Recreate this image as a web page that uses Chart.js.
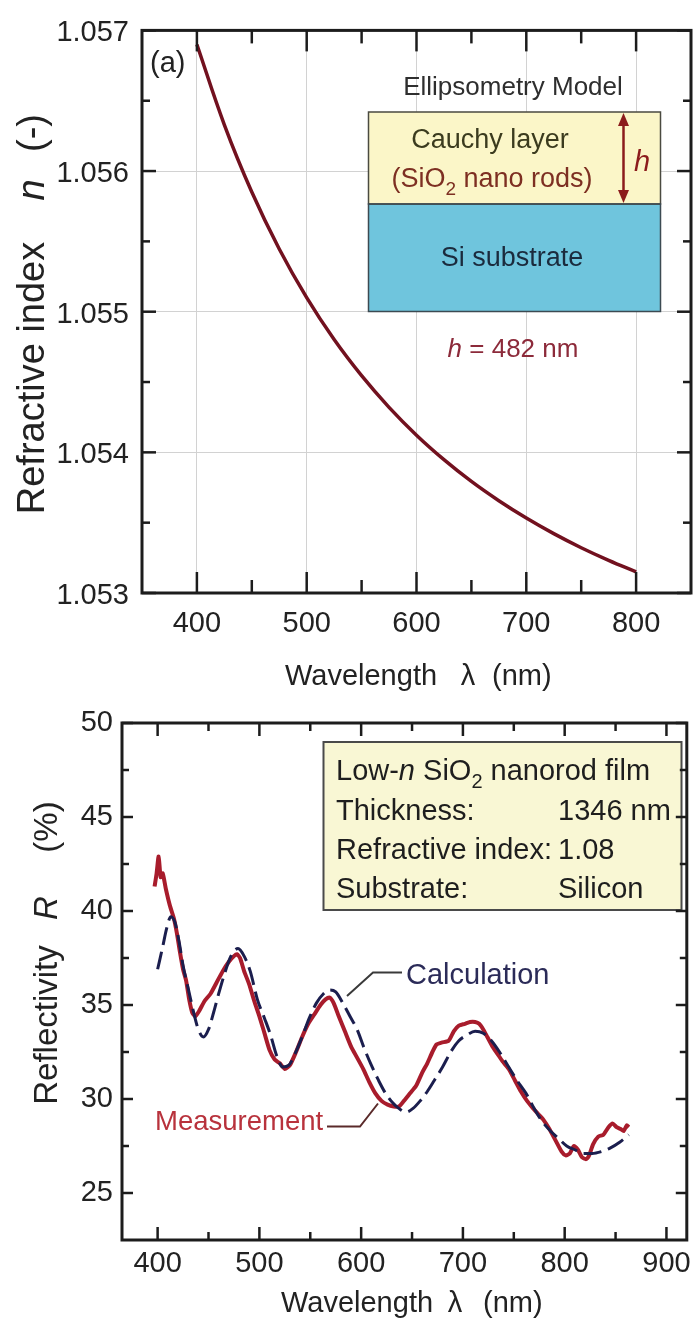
<!DOCTYPE html>
<html>
<head>
<meta charset="utf-8">
<script src="https://cdn.jsdelivr.net/npm/chart.js@4.4.1/dist/chart.umd.min.js"></script>
<style>
  html, body { margin: 0; padding: 0; background: #fff; }
  body { width: 698px; height: 1323px; position: relative; overflow: hidden; }
  #indexChart { position: absolute; left: 0; top: 0; }
  #reflChart { position: absolute; left: 0; top: 690px; }
</style>
</head>
<body>
<canvas id="indexChart" width="698" height="705"></canvas>
<canvas id="reflChart" width="698" height="633"></canvas>
<script>
// -------------------- Data: (a) refractive index --------------------
const indexWavelength = [400, 425, 450, 475, 500, 525, 550, 575, 600, 625, 650, 675, 700, 725, 750, 775, 800];
const refractiveIndex = [1.0569, 1.056329, 1.055851, 1.055446, 1.0551, 1.054802, 1.054545, 1.05432, 1.054122,
  1.053948, 1.053793, 1.053656, 1.053533, 1.053422, 1.053322, 1.053232, 1.05315];
const indexXTicks = [400, 500, 600, 700, 800];
const indexXMinor = [450, 550, 650, 750];
const indexYTicks = [1.053, 1.054, 1.055, 1.056, 1.057];
const indexYMinor = [1.0535, 1.0545, 1.0555, 1.0565];

// -------------------- Data: reflectivity --------------------
const measWavelength = [397, 399, 401, 403, 405, 408, 412, 416, 419, 422, 425, 428, 431, 434, 437, 441, 446, 452, 458, 464,
  470, 475, 478, 481, 485, 490, 495, 500, 505, 510, 515, 520, 525, 530, 536, 542, 548, 554, 560, 565,
  569, 573, 578, 584, 590, 596, 602, 608, 614, 620, 626, 632, 637, 642, 648, 654, 660, 665, 670, 674,
  679, 686, 691, 696, 702, 707, 712, 716, 720, 724, 729, 734, 739, 745, 751, 757, 763, 769, 774, 779,
  785, 791, 797, 801, 805, 809, 813, 817, 821, 824, 828, 833, 838, 843, 847, 851, 855, 858, 861, 863];
const measReflectivity = [41.3, 42.0, 42.9, 41.8, 42.0, 41.2, 40.3, 39.6, 38.8, 37.8, 36.9, 36.3, 35.3, 34.6, 34.4, 34.7, 35.2, 35.6, 36.2, 36.8,
  37.3, 37.6, 37.7, 37.5, 36.8, 36.1, 35.2, 34.4, 33.5, 32.6, 32.1, 31.9, 31.6, 31.8, 32.5, 33.3, 34.0, 34.5, 35.0, 35.3,
  35.4, 35.1, 34.4, 33.6, 32.8, 32.2, 31.6, 30.9, 30.3, 29.9, 29.7, 29.6, 29.6, 29.9, 30.3, 30.7, 31.4, 31.9, 32.5, 32.9,
  33.0, 33.1, 33.6, 33.9, 34.0, 34.1, 34.1, 34.0, 33.7, 33.3, 32.8, 32.4, 32.0, 31.6, 31.0, 30.4, 29.9, 29.5, 29.2, 28.9,
  28.4, 27.8, 27.2, 27.0, 27.1, 27.5, 27.3, 26.9, 26.8, 27.0, 27.6, 28.0, 28.1, 28.5, 28.7, 28.5, 28.4, 28.3, 28.6, 28.5];
const calcWavelength = [400, 405, 409, 413, 417, 421, 425, 430, 435, 440, 445, 450, 455, 460, 466, 472, 479, 485, 491, 498,
  505, 511, 517, 523, 529, 535, 542, 549, 556, 563, 569, 575, 582, 589, 596, 603, 610, 617, 624, 631,
  637, 644, 651, 658, 665, 672, 680, 688, 696, 704, 712, 720, 728, 736, 745, 753, 762, 770, 778, 786,
  794, 802, 810, 818, 827, 836, 845, 854, 863];
const calcReflectivity = [36.9, 38.1, 39.1, 39.7, 39.4, 38.4, 37.1, 35.9, 34.7, 33.7, 33.3, 33.7, 34.6, 35.6, 36.7, 37.6, 38.0, 37.6, 36.8, 35.3,
  34.3, 33.4, 32.3, 31.7, 31.8, 32.4, 33.3, 34.3, 35.1, 35.6, 35.8, 35.7, 35.1, 34.4, 33.7, 32.7, 31.8, 31.0, 30.3, 29.8,
  29.5, 29.3, 29.5, 29.9, 30.4, 31.0, 31.7, 32.5, 33.1, 33.4, 33.6, 33.5, 33.1, 32.5, 31.7, 31.0, 30.3, 29.5, 28.8, 28.3,
  27.9, 27.5, 27.3, 27.1, 27.1, 27.2, 27.4, 27.7, 28.1];
const reflXTicks = [400, 500, 600, 700, 800, 900];
const reflXMinor = [450, 550, 650, 750, 850];
const reflYTicks = [25, 30, 35, 40, 45, 50];
const reflYMinor = [27.5, 32.5, 37.5, 42.5, 47.5];

// -------------------- Fonts --------------------
function hasFont(name){
  const c = document.createElement('canvas').getContext('2d');
  c.font = '40px monospace';
  const a = c.measureText('Wavelength 1.057').width;
  c.font = `40px "${name}", monospace`;
  return c.measureText('Wavelength 1.057').width !== a;
}
const SANS = '"Liberation Sans", Arial, sans-serif';
const hasNarrow = hasFont('Liberation Sans Narrow');
const NARROW = hasNarrow ? '"Liberation Sans Narrow", "Liberation Sans", sans-serif' : SANS;
const ns = size => hasNarrow ? size : Math.round(size * 0.82);   // narrow size fallback
const nf = (size, style) => `${style || ''} ${ns(size)}px ${NARROW}`;
const sf = (size, style) => `${style || ''} ${size}px ${SANS}`;

// -------------------- Drawing helpers --------------------
function line(ctx, pts){
  ctx.beginPath();
  ctx.moveTo(pts[0][0], pts[0][1]);
  pts.slice(1).forEach(p => ctx.lineTo(p[0], p[1]));
  ctx.stroke();
}

// runs of text with mixed styles: [{t, font, dy}]
function runs(ctx, parts, x, y, align, color){
  ctx.save();
  ctx.fillStyle = color;
  ctx.textBaseline = 'alphabetic';
  ctx.textAlign = 'left';
  const widths = parts.map(p => { ctx.font = p.font; return ctx.measureText(p.t).width; });
  const total = widths.reduce((a, b) => a + b, 0);
  let cx = align === 'center' ? x - total / 2 : x;
  parts.forEach((p, i) => {
    ctx.font = p.font;
    ctx.fillText(p.t, cx, y + (p.dy || 0));
    cx += widths[i];
  });
  ctx.restore();
}

// vertical text, read bottom-to-top, baseline at bx
function vtext(ctx, str, bx, cy, font, color){
  ctx.save();
  ctx.translate(bx, cy);
  ctx.rotate(-Math.PI / 2);
  ctx.font = font;
  ctx.fillStyle = color;
  ctx.textAlign = 'center';
  ctx.textBaseline = 'alphabetic';
  ctx.fillText(str, 0, 0);
  ctx.restore();
}

// border box plus inward tick marks on all four sides
function drawFrame(chart, o){
  const {ctx, chartArea: a, scales: {x, y}} = chart;
  ctx.save();
  ctx.strokeStyle = '#1c1c1c';
  ctx.lineWidth = o.tickWidth;
  const xt = (vals, len) => vals.forEach(v => {
    const p = x.getPixelForValue(v);
    line(ctx, [[p, a.bottom], [p, a.bottom - len]]);
    line(ctx, [[p, a.top], [p, a.top + len]]);
  });
  const yt = (vals, len) => vals.forEach(v => {
    const p = y.getPixelForValue(v);
    line(ctx, [[a.left, p], [a.left + len, p]]);
    line(ctx, [[a.right, p], [a.right - len, p]]);
  });
  xt(o.xMajor, o.xMajorLen);
  xt(o.xMinor, o.xMinorLen);
  yt(o.yMajor, o.yMajorLen);
  yt(o.yMinor, o.yMinorLen);
  ctx.lineWidth = o.border;
  ctx.strokeRect(a.left, a.top, a.right - a.left, a.bottom - a.top);
  ctx.restore();
}

const framePlugin = {
  id: 'frame',
  afterDatasetsDraw(chart, args, opts){ drawFrame(chart, opts); }
};

// -------------------- (a) inset and labels --------------------
const indexNotes = {
  id: 'indexNotes',
  beforeDatasetsDraw(chart){
    const ctx = chart.ctx;
    ctx.save();
    // ellipsometry model layers
    ctx.fillStyle = '#fbf6c8';
    ctx.fillRect(368.5, 112, 292, 92);
    ctx.fillStyle = '#6fc5dd';
    ctx.fillRect(368.5, 204, 292, 107.5);
    ctx.strokeStyle = '#4a4a40';
    ctx.lineWidth = 1.5;
    ctx.strokeRect(368.5, 112, 292, 92);
    ctx.strokeStyle = '#3c4a52';
    ctx.strokeRect(368.5, 204, 292, 107.5);
    ctx.restore();

    runs(ctx, [{t: 'Ellipsometry Model', font: nf(32)}], 513, 95, 'center', '#2e2e2e');
    runs(ctx, [{t: 'Cauchy layer', font: nf(33)}], 490, 148, 'center', '#3b3b1e');
    runs(ctx, [
      {t: '(SiO', font: nf(33)},
      {t: '2', font: nf(23), dy: 8},
      {t: ' nano rods)', font: nf(33)}
    ], 492, 187, 'center', '#7d2f22');
    runs(ctx, [{t: 'Si substrate', font: nf(33)}], 512, 266, 'center', '#1b2b3d');
    runs(ctx, [
      {t: 'h', font: nf(32, 'italic')},
      {t: ' = 482 nm', font: nf(32)}
    ], 513, 357, 'center', '#8c2a3a');

    // thickness arrow
    ctx.save();
    ctx.strokeStyle = '#8b1c1c';
    ctx.fillStyle = '#8b1c1c';
    ctx.lineWidth = 2.5;
    line(ctx, [[623.5, 122], [623.5, 194]]);
    ctx.beginPath();
    ctx.moveTo(623.5, 113); ctx.lineTo(618, 126); ctx.lineTo(629, 126); ctx.closePath(); ctx.fill();
    ctx.beginPath();
    ctx.moveTo(623.5, 203); ctx.lineTo(618, 190); ctx.lineTo(629, 190); ctx.closePath(); ctx.fill();
    ctx.restore();
    runs(ctx, [{t: 'h', font: nf(35, 'italic')}], 642, 171, 'center', '#8b1c1c');

    runs(ctx, [{t: '(a)', font: nf(35)}], 150, 72, 'left', '#222');
  },
  afterDraw(chart){
    const ctx = chart.ctx;
    // axis titles
    runs(ctx, [{t: 'Wavelength', font: nf(35.5)}], 285, 685, 'left', '#222');
    runs(ctx, [{t: 'λ', font: nf(35.5)}], 468, 685, 'center', '#222');
    runs(ctx, [{t: '(nm)', font: nf(35.5)}], 492, 685, 'left', '#222');
    vtext(ctx, 'Refractive index', 44, 378, sf(38), '#222');
    vtext(ctx, 'n', 44, 190, sf(38, 'italic'), '#222');
    vtext(ctx, '(-)', 44, 133, sf(38), '#222');
  }
};

// -------------------- (b) legend box and labels --------------------
const reflNotes = {
  id: 'reflNotes',
  afterDatasetsDraw(chart){
    const ctx = chart.ctx;
    ctx.save();
    ctx.fillStyle = '#f9f7d4';
    ctx.fillRect(323.5, 52, 358, 168);
    ctx.strokeStyle = '#4a4a4a';
    ctx.lineWidth = 2;
    ctx.strokeRect(323.5, 52, 358, 168);
    ctx.restore();

    const c = '#1e1e1e';
    runs(ctx, [
      {t: 'Low-', font: sf(29)},
      {t: 'n', font: sf(29, 'italic')},
      {t: ' SiO', font: sf(29)},
      {t: '2', font: sf(20), dy: 8},
      {t: ' nanorod film', font: sf(29)}
    ], 336, 90, 'left', c);
    runs(ctx, [{t: 'Thickness:', font: sf(29)}], 336, 129.5, 'left', c);
    runs(ctx, [{t: '1346 nm', font: sf(29)}], 558, 129.5, 'left', c);
    runs(ctx, [{t: 'Refractive index:', font: sf(29)}], 336, 168.5, 'left', c);
    runs(ctx, [{t: '1.08', font: sf(29)}], 558, 168.5, 'left', c);
    runs(ctx, [{t: 'Substrate:', font: sf(29)}], 336, 208, 'left', c);
    runs(ctx, [{t: 'Silicon', font: sf(29)}], 558, 208, 'left', c);

    // curve labels with leader lines
    ctx.save();
    ctx.lineWidth = 2;
    ctx.strokeStyle = '#3a3a3a';
    line(ctx, [[402, 282.5], [373, 282.5], [347, 306]]);
    ctx.strokeStyle = '#5a2a2a';
    line(ctx, [[327, 436.5], [360, 436.5], [378, 413.5]]);
    ctx.restore();
    runs(ctx, [{t: 'Calculation', font: sf(29)}], 406, 293.5, 'left', '#2b2b58');
    runs(ctx, [{t: 'Measurement', font: sf(27.5)}], 155, 440, 'left', '#b8323c');
  },
  afterDraw(chart){
    const ctx = chart.ctx;
    runs(ctx, [{t: 'Wavelength', font: sf(29)}], 281, 622, 'left', '#222');
    runs(ctx, [{t: 'λ', font: sf(29)}], 455, 622, 'center', '#222');
    runs(ctx, [{t: '(nm)', font: sf(29)}], 483, 622, 'left', '#222');
    vtext(ctx, 'Reflectivity', 57, 335, sf(33), '#222');
    vtext(ctx, 'R', 57, 218, sf(33, 'italic'), '#222');
    vtext(ctx, '(%)', 57, 137, sf(33), '#222');
  }
};

// -------------------- Chart (a) --------------------
new Chart(document.getElementById('indexChart'), {
  type: 'line',
  data: {
    datasets: [{
      data: indexWavelength.map((x, i) => ({x, y: refractiveIndex[i]})),
      borderColor: '#72111f',
      borderWidth: 3.5,
      pointRadius: 0,
      tension: 0.4,
      fill: false
    }]
  },
  options: {
    responsive: false,
    animation: false,
    devicePixelRatio: 1,
    layout: { padding: { left: 0, right: 7, top: 26, bottom: 0 } },
    plugins: {
      legend: { display: false },
      tooltip: { enabled: false },
      frame: {
        xMajor: indexXTicks, xMinor: indexXMinor, yMajor: indexYTicks, yMinor: indexYMinor,
        xMajorLen: 21, xMinorLen: 13, yMajorLen: 14, yMinorLen: 8, tickWidth: 2.5, border: 3
      }
    },
    scales: {
      x: {
        type: 'linear', min: 350, max: 850,
        afterBuildTicks: s => { s.ticks = indexXTicks.map(v => ({value: v})); },
        afterFit: s => { s.height = 112; },
        border: { display: false },
        grid: { color: '#d2d2d2', lineWidth: 1, drawTicks: false },
        ticks: { padding: 14, color: '#222', maxRotation: 0, autoSkip: false, font: { family: NARROW, size: ns(35) } }
      },
      y: {
        type: 'linear', min: 1.053, max: 1.057,
        afterBuildTicks: s => { s.ticks = indexYTicks.map(v => ({value: v})); },
        afterFit: s => { s.width = 142; },
        border: { display: false },
        grid: {
          color: c => (c.index === 0 || c.index === indexYTicks.length - 1) ? 'rgba(0,0,0,0)' : '#d2d2d2',
          lineWidth: 1, drawTicks: false
        },
        ticks: { padding: 13, labelOffset: 3, color: '#222', callback: v => v.toFixed(3), font: { family: NARROW, size: ns(35) } }
      }
    }
  },
  plugins: [indexNotes, framePlugin]
});

// -------------------- Chart (b) --------------------
new Chart(document.getElementById('reflChart'), {
  type: 'line',
  data: {
    datasets: [{
      label: 'Calculation',
      data: calcWavelength.map((x, i) => ({x, y: calcReflectivity[i]})),
      borderColor: '#1b1e4e',
      borderWidth: 3,
      borderDash: [18, 7],
      pointRadius: 0,
      cubicInterpolationMode: 'monotone',
      order: 0
    }, {
      label: 'Measurement',
      data: measWavelength.map((x, i) => ({x, y: measReflectivity[i]})),
      borderColor: '#a81c2c',
      borderWidth: 4,
      pointRadius: 0,
      tension: 0.2,
      order: 1
    }]
  },
  options: {
    responsive: false,
    animation: false,
    devicePixelRatio: 1,
    layout: { padding: { left: 0, right: 10, top: 33, bottom: 0 } },
    plugins: {
      legend: { display: false },
      tooltip: { enabled: false },
      frame: {
        xMajor: reflXTicks, xMinor: reflXMinor, yMajor: reflYTicks, yMinor: reflYMinor,
        xMajorLen: 13, xMinorLen: 8, yMajorLen: 11, yMinorLen: 7, tickWidth: 2.5, border: 3
      }
    },
    scales: {
      x: {
        type: 'linear', min: 365, max: 920,
        afterBuildTicks: s => { s.ticks = reflXTicks.map(v => ({value: v})); },
        afterFit: s => { s.height = 83; },
        border: { display: false },
        grid: { display: false, drawTicks: false },
        ticks: { padding: 7, color: '#222', maxRotation: 0, autoSkip: false, font: { family: SANS, size: 29 } }
      },
      y: {
        type: 'linear', min: 22.5, max: 50,
        afterBuildTicks: s => { s.ticks = reflYTicks.map(v => ({value: v})); },
        afterFit: s => { s.width = 122; },
        border: { display: false },
        grid: { display: false, drawTicks: false },
        ticks: { padding: 9, color: '#222', font: { family: SANS, size: 29 } }
      }
    }
  },
  plugins: [reflNotes, framePlugin]
});
</script>
</body>
</html>
